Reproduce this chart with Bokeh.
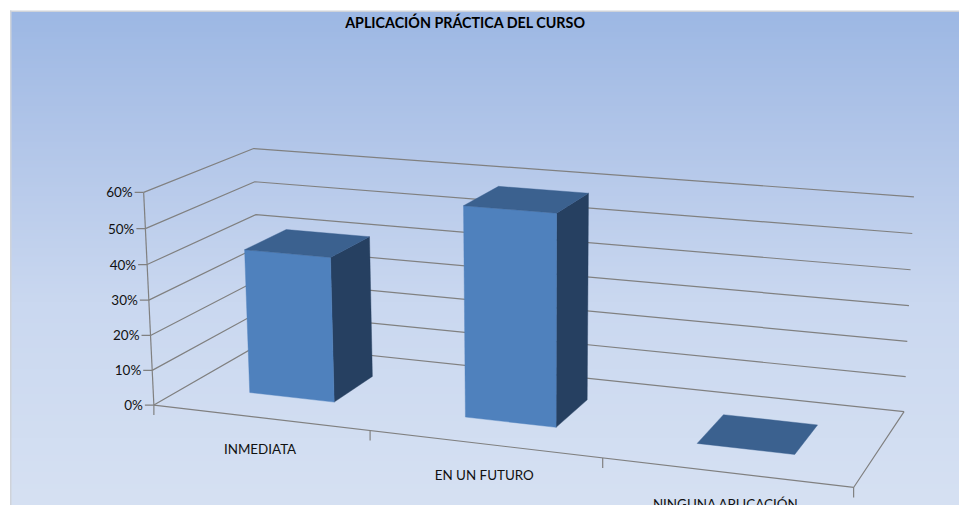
import numpy as np
from bokeh.plotting import figure
from bokeh.models import Range1d
from bokeh.core.properties import value
from bokeh.embed import file_html
from bokeh.resources import INLINE

TITLE = "APLICACIÓN PRÁCTICA DEL CURSO"
categories = ["INMEDIATA", "EN UN FUTURO", "NINGUNA APLICACIÓN"]
shares = [0.413, 0.587, 0.0]
tick_values = [0.0, 0.1, 0.2, 0.3, 0.4, 0.5, 0.6]
tick_labels = ["0%", "10%", "20%", "30%", "40%", "50%", "60%"]

# Camera of the 3-D chart: category position, depth, value -> page pixel
CAMERA = np.array([
    [203.17912097505996, 131.4044394172619, -23.277556060832314, 154.17414170891198],
    [10.317561027978822, -28.590675701160546, -362.7542832079602, 404.56565971983684],
    [-0.03521370896146436, 0.09540060101267045, -0.04327466247161382, 1.0],
])
BAR_HALF = 0.2
DEPTH_FRONT, DEPTH_BACK = 0.3, 0.7
FONT = "Lato"
TXT = "#111111"
GRID = "#808080"


def P(x, y, z):
    h = CAMERA @ np.array([x, y, z, 1.0])
    return float(h[0] / h[2]), float(h[1] / h[2])


p = figure(width=959, height=505, x_range=Range1d(0.8, 959.8), y_range=Range1d(505, 0),
           toolbar_location=None, output_backend="svg", min_border=0,
           background_fill_color="white", border_fill_color="white", outline_line_color=None)
p.axis.visible = False
p.grid.visible = False

# Background gradient: each band paints down to the page bottom, so no seams show
STOPS_Y = [11, 140, 300, 505]
STOPS_R = [157, 178, 202, 214]
STOPS_G = [184, 198, 216, 225]
STOPS_B = [228, 233, 240, 243]
rows = np.arange(11, 505, 2)
band_colors = ["#%02x%02x%02x" % (int(np.interp(y, STOPS_Y, STOPS_R)), int(np.interp(y, STOPS_Y, STOPS_G)),
                                  int(np.interp(y, STOPS_Y, STOPS_B))) for y in rows]
p.quad(left=11, right=961, top=rows.tolist(), bottom=505, fill_color=band_colors, line_color=None)
p.quad(left=[10.3, 10.3], right=[11.8, 961], top=[505, 10], bottom=[10, 11.5], fill_color="#cfd3da", line_color=None)

# Walls and floor lines
xs, ys = [], []
for v in tick_values:
    a, b, c = P(0, 0, v), P(0, 1, v), P(3, 1, v)
    xs.append([a[0], b[0], c[0]]); ys.append([a[1], b[1], c[1]])
corners = [P(0, 0, 0), P(3, 0, 0), P(3, 1, 0)]
xs.append([q[0] for q in corners]); ys.append([q[1] for q in corners])
a, b = P(0, 0, tick_values[0]), P(0, 0, tick_values[-1])
xs.append([a[0], b[0]]); ys.append([a[1], b[1]])
for v in tick_values:
    q = P(0, 0, v)
    xs.append([q[0] - 9, q[0]]); ys.append([q[1], q[1]])
for u in range(len(categories) + 1):
    q = P(u, 0, 0)
    xs.append([q[0], q[0]]); ys.append([q[1], q[1] + 10])
p.multi_line(xs, ys, line_color=GRID, line_width=1.2)

# Bars
FRONT, TOPC, SIDE = "#4f81bd", "#3b618f", "#264061"


def face(pts, color):
    p.patch([q[0] for q in pts], [q[1] for q in pts], fill_color=color, line_color=color, line_width=0.4)


for i, v in enumerate(shares):
    l, r = i + 0.5 - BAR_HALF, i + 0.5 + BAR_HALF
    f, k = DEPTH_FRONT, DEPTH_BACK
    if v > 0:
        face([P(r, f, 0), P(r, k, 0), P(r, k, v), P(r, f, v)], SIDE)
        face([P(l, f, 0), P(r, f, 0), P(r, f, v), P(l, f, v)], FRONT)
    face([P(l, f, v), P(r, f, v), P(r, k, v), P(l, k, v)], TOPC)

# Texts
tx, ty = zip(*[P(0, 0, v) for v in tick_values])
p.text([q - 11 for q in tx], list(ty), text=tick_labels, text_font=value(FONT), text_font_size="13.5px",
       text_color=TXT, text_align="right", text_baseline="middle")
cx, cy = zip(*[P(i + 0.5, 0, 0) for i in range(len(categories))])
p.text(list(cx), [q + 31.5 for q in cy], text=categories, text_font=value(FONT), text_font_size="13.4px",
       text_color=TXT, text_align="center", text_baseline="middle")
p.text([465.8], [21.5], text=[TITLE], text_font=value(FONT), text_font_size="14.3px", text_font_style="bold",
       text_color="#000000", text_align="center", text_baseline="middle")

open("out.html", "w").write(file_html(p, INLINE))
